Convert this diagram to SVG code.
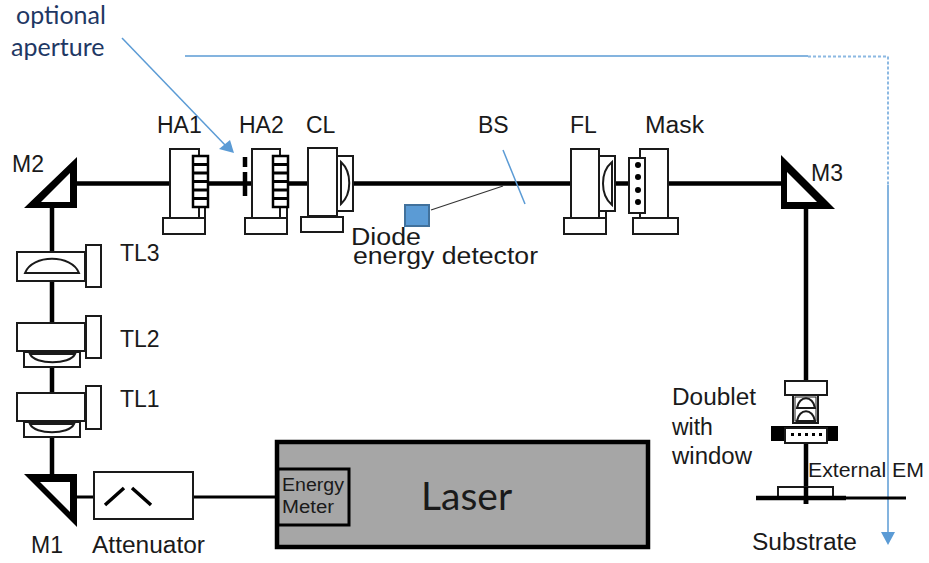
<svg xmlns="http://www.w3.org/2000/svg" width="929" height="563" viewBox="0 0 929 563">
<style>
.b{fill:#fff;stroke:#1a1a1a;stroke-width:2}
.n{fill:none;stroke:#1a1a1a;stroke-width:2}
.beam{fill:none;stroke:#000;stroke-width:4.500}
.thin{fill:none;stroke:#000;stroke-width:3}
.blue{fill:none;stroke:#5b9bd5;stroke-width:1.500}
.bf{fill:#5b9bd5}
.k{fill:#000}
text{font-family:"Liberation Sans",Arial,sans-serif;fill:#1a1a1a;font-size:23px}
.c{font-family:Lato,"Open Sans",sans-serif;fill:#1f3864;font-size:25px}
</style>
<defs>
<g id="stack"><rect x="0" y="0" width="15" height="51" fill="#fff" stroke="#000" stroke-width="2.500"/><path d="M0 8.500H15M0 17H15M0 25.500H15M0 34H15M0 42.500H15" fill="none" stroke="#000" stroke-width="3"/></g>
<circle id="dot" r="3" class="k"/>
</defs>
<g id="connectors">
<path class="beam" d="M77 183.500H170M208 183.500H252M288 183.500H308M353 183.500H571M615 183.500H629M668 183.500H782"/>
<path class="beam" d="M52 208V252M52 281V323M52 367V393M52 437V474"/>
<path class="beam" d="M806 209V381M806 443V504"/>
<path class="thin" d="M77 497H94M193 497H277"/>
<path d="M431 210L503 186" fill="none" stroke="#333" stroke-width="1.200"/>
<path class="blue" d="M503 150L525 204"/>
<path class="blue" d="M122 38L226 146"/>
<polygon class="bf" points="234,153 219,149 230,140"/>
<path class="blue" d="M185 56H808"/>
<path class="blue" d="M808 56.500H888V185" stroke-dasharray="3 2" style="stroke-width:2;opacity:.7"/>
<path class="blue" d="M888 185V533"/>
<polygon class="bf" points="881,532 895,532 888,545"/>
</g>
<g id="M2"><path class="k" fill-rule="evenodd" d="M77 157V208H24ZM70 173L41 202H70Z"/><text x="12" y="172">M2</text></g>
<g id="M1"><path class="k" fill-rule="evenodd" d="M24 474H77V527ZM40 482L70 512V482Z"/><text x="31" y="553">M1</text></g>
<g id="M3"><path class="k" fill-rule="evenodd" d="M781 155V209H835ZM787 172V202H817Z"/><text x="811" y="181">M3</text></g>
<g id="HA1"><rect class="b" x="170" y="149" width="29" height="69"/><path class="n" d="M199 207V218M205 207V218"/><rect class="b" x="163" y="218" width="42" height="16"/><use href="#stack" x="193" y="156"/><text x="157" y="133">HA1</text></g>
<g id="aperture"><path class="beam" d="M245 157V167M245 172V196"/></g>
<g id="HA2"><rect class="b" x="252" y="149" width="28" height="69"/><path class="n" d="M280 206V218M287 206V218"/><rect class="b" x="245" y="218" width="42" height="16"/><use href="#stack" x="273" y="156"/><text x="239" y="133">HA2</text></g>
<g id="CL"><rect class="b" x="308" y="148" width="29" height="68"/><rect class="b" x="337" y="156" width="16" height="55"/><path class="n" d="M341 162C352 172 352 194 341 204Z"/><rect class="b" x="301" y="217" width="42" height="15"/><text x="306" y="133">CL</text></g>
<g id="BS"><text x="478" y="133">BS</text></g>
<g id="diode"><rect x="405" y="205" width="24" height="21" fill="#5b9bd5" stroke="#41719c" stroke-width="2"/><text x="351" y="245" textLength="70" lengthAdjust="spacingAndGlyphs">Diode</text><text x="353" y="264" textLength="185" lengthAdjust="spacingAndGlyphs">energy detector</text></g>
<g id="FL"><rect class="b" x="571" y="149" width="28" height="69"/><rect class="b" x="599" y="156" width="16" height="55"/><path class="n" d="M612 162C600 172 600 195 612 205Z"/><path class="n" d="M599 211V218M606 211V218"/><rect class="b" x="564" y="218" width="42" height="16"/><text x="570" y="133">FL</text></g>
<g id="Mask"><rect class="b" x="640" y="149" width="28" height="69"/><rect class="b" x="633" y="218" width="45" height="16"/><rect class="b" x="629" y="158" width="16" height="55"/><use href="#dot" x="638" y="165"/><use href="#dot" x="638" y="177"/><use href="#dot" x="638" y="190"/><use href="#dot" x="638" y="202"/><text x="645" y="133" textLength="59" lengthAdjust="spacingAndGlyphs">Mask</text></g>
<g id="TL3"><rect class="b" x="17" y="252" width="68" height="29"/><rect class="b" x="86" y="245" width="15" height="42"/><path class="n" d="M25 273C32 254 72 254 79 273Z"/><text x="120" y="261">TL3</text></g>
<g id="TL2"><rect class="b" x="17" y="323" width="68" height="28"/><rect class="b" x="86" y="316" width="15" height="42"/><rect class="b" x="24" y="352" width="56" height="15"/><path class="n" d="M30 354H75C70 365 35 365 30 354Z"/><text x="120" y="347">TL2</text></g>
<g id="TL1"><rect class="b" x="17" y="393" width="68" height="28"/><rect class="b" x="86" y="386" width="15" height="43"/><rect class="b" x="24" y="422" width="56" height="15"/><path class="n" d="M30 424H74C69 435 35 435 30 424Z"/><text x="120" y="407">TL1</text></g>
<g id="attenuator"><rect class="b" x="94" y="472" width="99" height="47"/><path class="thin" d="M105 505L124 488M132 488L151 505" style="stroke-width:3.500"/><text x="92" y="553" textLength="113" lengthAdjust="spacingAndGlyphs">Attenuator</text></g>
<g id="laser"><rect x="277" y="442" width="371" height="105" fill="#a6a6a6" stroke="#000" stroke-width="4.500"/><text x="421" y="510" style="font-family:Lato,'Open Sans',sans-serif;font-size:39px">Laser</text></g>
<g id="energy-meter"><rect x="278" y="469" width="71" height="56" fill="#a6a6a6" stroke="#000" stroke-width="3"/><text x="282" y="491" style="font-size:18px" textLength="62" lengthAdjust="spacingAndGlyphs">Energy</text><text x="282" y="513" style="font-size:18px" textLength="52" lengthAdjust="spacingAndGlyphs">Meter</text></g>
<g id="doublet"><rect class="b" x="785" y="381" width="42" height="14"/><rect class="b" x="793" y="395" width="25" height="28"/><rect class="n" x="795" y="397" width="21" height="24" style="stroke-width:1"/><path class="n" d="M797 408C799 395 813 395 815 408ZM797 421C799 408 813 408 815 421Z"/><rect class="k" x="771" y="426" width="67" height="15"/><rect class="b" x="785" y="428" width="42" height="15"/><path d="M791 434.500H825" fill="none" stroke="#000" stroke-width="3" stroke-dasharray="3 4"/><text x="672" y="405" textLength="84" lengthAdjust="spacingAndGlyphs">Doublet</text><text x="672" y="435">with</text><text x="672" y="464" textLength="80" lengthAdjust="spacingAndGlyphs">window</text></g>
<g id="substrate"><rect class="b" x="778" y="487" width="55" height="10"/><path class="beam" d="M756 498H846"/><path class="thin" d="M846 498H906"/><path class="beam" d="M806 487V504"/><text x="752" y="550" textLength="105" lengthAdjust="spacingAndGlyphs">Substrate</text></g>
<g id="external-em"><text x="808" y="477" style="font-size:19.500px" textLength="116" lengthAdjust="spacingAndGlyphs">External EM</text></g>
<g id="aperture-label"><text class="c" x="16" y="24">optional</text><text class="c" x="11" y="56">aperture</text></g>
</svg>
